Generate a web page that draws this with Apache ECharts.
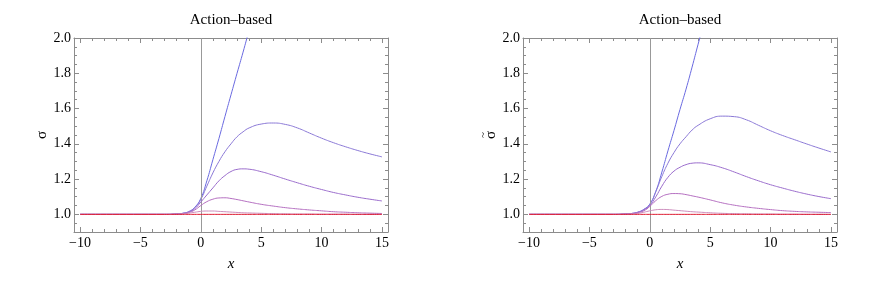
<!DOCTYPE html>
<html>
<head>
<meta charset="utf-8">
<script src="https://cdn.jsdelivr.net/npm/echarts@6/dist/echarts.min.js"></script>
<style>html,body{margin:0;padding:0;background:#fff}#c{width:871px;height:286px}</style>
</head>
<body>
<div id="c"></div>
<script>
// ---- data ----
var xs = [-10, -3, -2, -1.5, -1, -0.5, 0, 0.5, 1, 1.5, 2, 2.5, 3, 3.5, 4, 5, 6, 7, 8, 9, 10, 11, 12, 13, 14, 15];

var leftC1 = [1, 1, 1.002, 1.006, 1.015, 1.04, 1.09, 1.19, 1.31, 1.43, 1.555, 1.678, 1.80, 1.92, 2.045, 2.29, null, null, null, null, null, null, null, null, null, null];
var leftC2 = [1, 1, 1.002, 1.006, 1.015, 1.038, 1.085, 1.16, 1.235, 1.30, 1.355, 1.40, 1.44, 1.468, 1.49, 1.512, 1.518, 1.51, 1.49, 1.461, 1.432, 1.406, 1.383, 1.362, 1.343, 1.326];
var leftC3 = [1, 1, 1.002, 1.005, 1.013, 1.032, 1.07, 1.11, 1.15, 1.19, 1.22, 1.243, 1.255, 1.258, 1.256, 1.242, 1.222, 1.200, 1.179, 1.159, 1.141, 1.124, 1.110, 1.097, 1.086, 1.076];
var leftC4 = [1, 1, 1.002, 1.004, 1.01, 1.025, 1.05, 1.072, 1.086, 1.093, 1.094, 1.09, 1.084, 1.077, 1.07, 1.057, 1.047, 1.038, 1.031, 1.025, 1.02, 1.015, 1.012, 1.009, 1.007, 1.005];
var leftC5 = [1, 1, 1.001, 1.003, 1.007, 1.012, 1.017, 1.019, 1.019, 1.017, 1.015, 1.013, 1.011, 1.009, 1.008, 1.006, 1.004, 1.003, 1.002, 1.002, 1.001, 1.001, 1.001, 1.0, 1.0, 1.0];
var leftC6 = [1, 1, 1, 1, 1, 1, 1, 1, 1, 1, 1, 1, 1, 1, 1, 1, 1, 1, 1, 1, 1, 1, 1, 1, 1, 1];

var rightC1 = [1, 1, 1.002, 1.005, 1.012, 1.028, 1.058, 1.13, 1.24, 1.36, 1.475, 1.595, 1.71, 1.835, 1.965, 2.22, null, null, null, null, null, null, null, null, null, null];
var rightC2 = [1, 1, 1.002, 1.005, 1.012, 1.027, 1.056, 1.13, 1.215, 1.29, 1.35, 1.40, 1.44, 1.478, 1.505, 1.542, 1.557, 1.554, 1.536, 1.505, 1.474, 1.447, 1.423, 1.399, 1.376, 1.354];
var rightC3 = [1, 1, 1.002, 1.005, 1.011, 1.025, 1.05, 1.1, 1.16, 1.21, 1.245, 1.267, 1.282, 1.29, 1.292, 1.282, 1.264, 1.24, 1.214, 1.19, 1.168, 1.149, 1.131, 1.115, 1.101, 1.089];
var rightC4 = [1, 1, 1.002, 1.004, 1.009, 1.02, 1.045, 1.078, 1.102, 1.114, 1.118, 1.117, 1.112, 1.105, 1.098, 1.082, 1.065, 1.052, 1.042, 1.034, 1.027, 1.021, 1.017, 1.014, 1.012, 1.01];
var rightC5 = [1, 1, 1.001, 1.002, 1.005, 1.012, 1.02, 1.026, 1.028, 1.027, 1.024, 1.021, 1.018, 1.015, 1.013, 1.009, 1.006, 1.004, 1.003, 1.002, 1.002, 1.001, 1.001, 1.0, 1.0, 1.0];
var rightC6 = [1, 1, 1, 1, 1, 1, 1, 1, 1, 1, 1, 1, 1, 1, 1, 1, 1, 1, 1, 1, 1, 1, 1, 1, 1, 1];

var xMajorTicks = [-10, -5, 0, 5, 10, 15];
var xMinorTicks = [-10, -9, -8, -7, -6, -5, -4, -3, -2, -1, 0, 1, 2, 3, 4, 5, 6, 7, 8, 9, 10, 11, 12, 13, 14, 15];
var yMajorTicks = [1.0, 1.2, 1.4, 1.6, 1.8, 2.0];
var yMinorTicks = [0.9, 0.95, 1.0, 1.05, 1.1, 1.15, 1.2, 1.25, 1.3, 1.35, 1.4, 1.45, 1.5, 1.55, 1.6, 1.65, 1.7, 1.75, 1.8, 1.85, 1.9, 1.95, 2.0];

var titleText = 'Action\u2013based';
var xName = 'x';
var leftYName = '{s|\u03C3}';
var rightYName = '{t|~}\n{s|\u03C3}';

var curveColors = ['#6a6ae0', '#8a78d6', '#9a6ccc', '#b46ec0', '#cc8cbc', '#dd1a30'];

// ---- build ----
var FONT = 'Liberation Serif, Times New Roman, serif';
var FRAME = '#8c8c8c';
var XMIN = -10.5, XMAX = 15.5, YMIN = 0.9, YMAX = 2.0;

var grids = [], xAxes = [], yAxes = [], series = [];

function pair(arr) {
  var out = [];
  for (var i = 0; i < xs.length; i++) out.push([xs[i], arr[i]]);
  return out;
}

function panel(g, left, curves, yName) {
  grids.push({left: left, top: 38, width: 314, height: 194});
  var xi = xAxes.length, yi = yAxes.length;
  var xLab = function (v) { return String(v).replace('-', '\u2212'); };
  xAxes.push({type: 'value', gridIndex: g, position: 'bottom', min: XMIN, max: XMAX,
    name: xName, nameLocation: 'middle', nameGap: 25,
    nameTextStyle: {fontFamily: FONT, fontSize: 15, fontStyle: 'italic', color: '#000'},
    axisLine: {show: true, onZero: false, lineStyle: {color: FRAME, width: 1}},
    axisTick: {show: true, inside: true, length: 5, customValues: xMajorTicks, lineStyle: {color: FRAME}},
    axisLabel: {show: true, customValues: xMajorTicks, margin: 4, formatter: xLab, fontFamily: FONT, fontSize: 14, color: '#000'},
    splitLine: {show: false}});
  xAxes.push({type: 'value', gridIndex: g, position: 'bottom', min: XMIN, max: XMAX,
    axisLine: {show: false, onZero: false},
    axisTick: {show: true, inside: true, length: 3, customValues: xMinorTicks, lineStyle: {color: FRAME}},
    axisLabel: {show: false}, splitLine: {show: false}});
  xAxes.push({type: 'value', gridIndex: g, position: 'top', min: XMIN, max: XMAX,
    name: titleText, nameLocation: 'middle', nameGap: 10,
    nameTextStyle: {fontFamily: FONT, fontSize: 15, color: '#000'},
    axisLine: {show: true, onZero: false, lineStyle: {color: FRAME, width: 1}},
    axisTick: {show: true, inside: true, length: 5, customValues: xMajorTicks, lineStyle: {color: FRAME}},
    axisLabel: {show: false}, splitLine: {show: false}});
  xAxes.push({type: 'value', gridIndex: g, position: 'top', min: XMIN, max: XMAX,
    axisLine: {show: false, onZero: false},
    axisTick: {show: true, inside: true, length: 3, customValues: xMinorTicks, lineStyle: {color: FRAME}},
    axisLabel: {show: false}, splitLine: {show: false}});

  yAxes.push({type: 'value', gridIndex: g, position: 'left', min: YMIN, max: YMAX,
    name: yName, nameLocation: 'middle', nameGap: 26, nameRotate: 90,
    nameTextStyle: {fontFamily: FONT, fontSize: 15, color: '#000',
      rich: {s: {fontFamily: FONT, fontSize: 15, lineHeight: 12, color: '#000'},
             t: {fontFamily: FONT, fontSize: 11, lineHeight: 3, color: '#000'}}},
    axisLine: {show: true, onZero: false, lineStyle: {color: FRAME, width: 1}},
    axisTick: {show: true, inside: true, length: 5, customValues: yMajorTicks, lineStyle: {color: FRAME}},
    axisLabel: {show: true, customValues: yMajorTicks, margin: 3, formatter: function (v) { return v.toFixed(1); }, fontFamily: FONT, fontSize: 14, color: '#000'},
    splitLine: {show: false}});
  yAxes.push({type: 'value', gridIndex: g, position: 'left', min: YMIN, max: YMAX,
    axisLine: {show: false, onZero: false},
    axisTick: {show: true, inside: true, length: 3, customValues: yMinorTicks, lineStyle: {color: FRAME}},
    axisLabel: {show: false}, splitLine: {show: false}});
  yAxes.push({type: 'value', gridIndex: g, position: 'right', min: YMIN, max: YMAX,
    axisLine: {show: true, onZero: false, lineStyle: {color: FRAME, width: 1}},
    axisTick: {show: true, inside: true, length: 5, customValues: yMajorTicks, lineStyle: {color: FRAME}},
    axisLabel: {show: false}, splitLine: {show: false}});
  yAxes.push({type: 'value', gridIndex: g, position: 'right', min: YMIN, max: YMAX,
    axisLine: {show: false, onZero: false},
    axisTick: {show: true, inside: true, length: 3, customValues: yMinorTicks, lineStyle: {color: FRAME}},
    axisLabel: {show: false}, splitLine: {show: false}});

  series.push({type: 'line', xAxisIndex: xi, yAxisIndex: yi, data: [], silent: true,
    markLine: {silent: true, symbol: 'none', animation: false, label: {show: false},
      lineStyle: {color: '#999', width: 1, type: 'solid'}, data: [{xAxis: 0}]}});

  curves.forEach(function (arr, k) {
    series.push({type: 'line', xAxisIndex: xi, yAxisIndex: yi, data: pair(arr),
      showSymbol: false, smooth: 0.5, clip: true, silent: true, sampling: 'none',
      lineStyle: {color: curveColors[k], width: 1}, z: 3 + k});
  });
}

panel(0, 74, [leftC1, leftC2, leftC3, leftC4, leftC5, leftC6], leftYName);
panel(1, 523, [rightC1, rightC2, rightC3, rightC4, rightC5, rightC6], rightYName);

var chart = echarts.init(document.getElementById('c'), null, {renderer: 'canvas'});
chart.setOption({animation: false, grid: grids, xAxis: xAxes, yAxis: yAxes, series: series});
</script>
</body>
</html>
